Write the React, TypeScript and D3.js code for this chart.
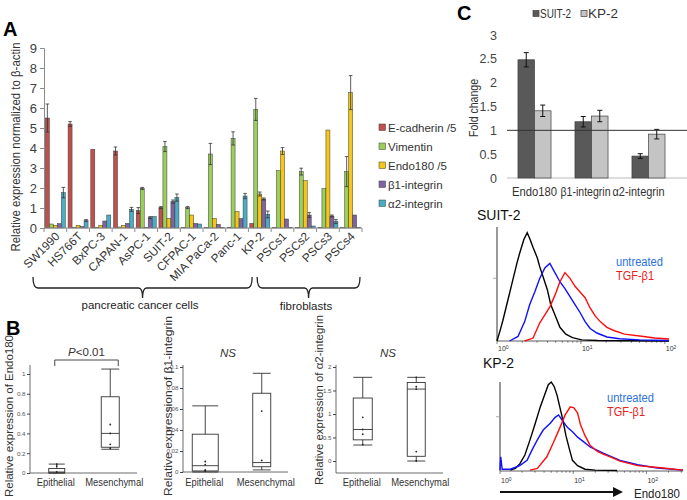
import React, { useRef, useEffect } from "react";
import * as d3 from "d3";

const FONT = "'Liberation Sans', Arial, sans-serif";

// ---- panel A: qPCR of cell lines
const cellLines = ["SW1990", "HS766T", "BxPC-3", "CAPAN-1", "AsPC-1", "SUIT-2", "CFPAC-1", "MIA PaCa-2", "Panc-1", "KP-2", "PSCs1", "PSCs2", "PSCs3", "PSCs4"];
const markers = ["E-cadherin /5", "Vimentin", "Endo180 /5", "β1-integrin", "α2-integrin"];
const markerColors = ["#c0504d", "#9bcf5c", "#f5c518", "#8064a2", "#4bacc6"];
const eCadherin = [5.5, 5.2, 3.93, 3.85, 0.87, 1.02, 0.02, 0.02, 0.02, 0.23, 0.02, 0.02, 0.02, 0.02];
const eCadherinErr = [0.7, 0.12, 0, 0.2, 0.15, 0.05, 0, 0, 0, 0, 0, 0, 0, 0];
const vimentin = [0.2, 0.03, 0.03, 0.05, 1.98, 4.07, 1.02, 3.7, 4.48, 5.93, 2.87, 2.82, 1.98, 2.82];
const vimentinErr = [0, 0, 0, 0, 0.05, 0.25, 0.05, 0.53, 0.33, 0.55, 0, 0.17, 0, 0.75];
const endo180 = [0.13, 0.13, 0.13, 0.13, 0.03, 0.48, 0.65, 0.48, 0.82, 1.7, 3.85, 2.37, 4.9, 6.77];
const endo180Err = [0, 0, 0, 0, 0, 0, 0, 0, 0, 0.1, 0.17, 0, 0, 0.85];
const beta1 = [0.22, 0.07, 0.35, 0.23, 0.52, 1.32, 0.23, 0.18, 0.47, 1.45, 0.45, 0.65, 0.6, 0.65];
const beta1Err = [0, 0, 0, 0, 0.05, 0.08, 0, 0, 0, 0.05, 0, 0.12, 0.05, 0];
const alpha2 = [1.77, 0.37, 0.65, 0.93, 0.57, 1.52, 0.2, 0.02, 1.6, 0.68, 0.02, 0.1, 0.32, 0.02];
const alpha2Err = [0.26, 0.05, 0, 0.1, 0, 0.18, 0, 0, 0.13, 0.17, 0, 0, 0.1, 0];

// ---- panel B: box plots  [min, q1, median, q3, max]
const groups = ["Epithelial", "Mesenchymal"];
const endoBox = [[0, 0, 0.01, 0.045, 0.09], [0.24, 0.26, 0.4, 0.77, 1.05]];
const endoPoints = [[0.09, 0.07, 0.01], [0.49, 0.4, 0.29, 0.25]];
const b1Box = [[0, 0.001, 0.006, 0.036, 0.063], [0.002, 0.005, 0.009, 0.075, 0.094]];
const b1Points = [[0.01, 0.007, 0.002, 0.001], [0.058, 0.011]];
const a2Box = [[0.34, 0.45, 0.67, 1.34, 1.78], [0, 0.1, 1.53, 1.67, 1.78]];
const a2Points = [[0.93, 0.67, 0.57, 0.35], [1.78, 1.58, 1.53, 0.2, 0]];

// ---- panel C: fold change
const foldTargets = ["Endo180", "β1-integrin", "α2-integrin"];
const foldLines = ["SUIT-2", "KP-2"];
const foldColors = ["#595959", "#c4c4c4"];
const suit2Fold = [2.48, 1.18, 0.46];
const suit2Err = [0.15, 0.11, 0.05];
const kp2Fold = [1.41, 1.3, 0.92];
const kp2Err = [0.12, 0.12, 0.1];

// ---- panel C: flow histograms [log10 intensity, % of max]
const suit2Control = [[0, 0], [0.04, 10], [0.07, 18], [0.13, 36], [0.19, 54], [0.24, 69], [0.27, 77], [0.32, 89], [0.36, 95], [0.39, 90], [0.43, 82], [0.48, 73], [0.51, 65], [0.56, 54], [0.6, 45], [0.64, 32], [0.69, 23], [0.75, 12], [0.82, 6], [0.9, 3], [1.01, 1], [1.2, 0.5], [2.05, 0]];
const suit2Untreated = [[0.15, 0], [0.25, 4], [0.33, 17], [0.39, 32], [0.45, 43], [0.51, 55], [0.57, 64], [0.63, 68], [0.69, 60], [0.75, 52], [0.81, 46], [0.87, 39], [0.93, 32], [0.99, 25], [1.05, 17], [1.11, 11], [1.19, 7], [1.31, 3.5], [1.46, 2], [1.7, 1], [2.05, 0.5]];
const suit2Tgf = [[0.33, 0], [0.43, 2.6], [0.51, 16], [0.57, 23], [0.63, 30], [0.69, 40], [0.75, 52], [0.81, 60], [0.87, 55], [0.93, 48], [0.99, 43], [1.05, 38], [1.11, 29], [1.17, 22], [1.23, 17], [1.31, 12], [1.4, 9], [1.52, 6], [1.7, 4.4], [1.88, 2.6], [2.05, 1.8]];
const kp2Control = [[0.14, 1], [0.21, 3], [0.27, 8], [0.34, 18], [0.41, 35], [0.48, 53], [0.55, 72], [0.62, 88], [0.66, 97], [0.7, 100], [0.74, 95], [0.78, 85], [0.82, 71], [0.86, 57], [0.9, 40], [0.95, 24], [0.99, 12], [1.06, 6], [1.16, 2], [1.3, 1], [1.6, 0.5]];
const kp2Untreated = [[0, 1], [0.01, 16], [0.03, 2], [0.14, 2], [0.27, 6], [0.37, 12], [0.44, 24], [0.51, 35], [0.59, 46], [0.69, 54], [0.75, 60], [0.8, 63], [0.85, 57], [0.92, 49], [0.99, 44], [1.06, 38], [1.14, 33], [1.23, 27], [1.41, 20], [1.64, 12], [1.88, 7], [2.15, 3.4], [2.5, 1]];
const kp2Tgf = [[0.41, 1], [0.51, 3], [0.64, 16], [0.73, 32], [0.82, 49], [0.89, 63], [0.96, 72], [1.01, 71], [1.06, 65], [1.1, 52], [1.16, 40], [1.23, 29], [1.33, 22], [1.41, 19], [1.53, 15], [1.64, 11], [1.88, 6], [2.23, 3.4], [2.5, 1]];

const txt = (g, x, y, s, size, opts: any = {}) => {
  const t = g.append("text")
    .attr("x", x).attr("y", y)
    .attr("font-family", FONT)
    .attr("font-size", size)
    .attr("fill", opts.fill || "#222")
    .attr("text-anchor", opts.anchor || "start")
    .attr("font-weight", opts.weight || "normal")
    .attr("font-style", opts.style || "normal")
    .text(s);
  if (opts.len) t.attr("textLength", opts.len).attr("lengthAdjust", "spacingAndGlyphs");
  return t;
};

const drawPanelA = svg => {
  const g = svg.append("g");
  const y = d3.scaleLinear().domain([0, 9]).range([228, 48]);
  const x0 = d3.scaleBand().domain(cellLines).range([44, 362]).paddingInner(0.12).paddingOuter(0.06);
  const x1 = d3.scaleBand().domain(markers).range([0, x0.bandwidth()]);
  const step = x0.step();

  const yAx = g.append("g").attr("transform", "translate(44,0)")
    .call(d3.axisLeft(y).ticks(9).tickSize(4).tickPadding(3));
  yAx.attr("font-family", FONT).attr("font-size", 13);
  yAx.select(".domain").attr("stroke", "#8c8c8c");
  yAx.selectAll(".tick line").attr("stroke", "#8c8c8c");
  yAx.selectAll(".tick text").attr("fill", "#404040");

  const series = [[eCadherin, eCadherinErr], [vimentin, vimentinErr], [endo180, endo180Err], [beta1, beta1Err], [alpha2, alpha2Err]];
  series.forEach(([vals, errs], k) => {
    const bw = x1.bandwidth();
    g.append("g").selectAll("rect").data(cellLines).join("rect")
      .attr("x", c => x0(c) + x1(markers[k]))
      .attr("y", (c, i) => y(vals[i]))
      .attr("width", bw)
      .attr("height", (c, i) => y(0) - y(vals[i]))
      .attr("fill", markerColors[k])
      .attr("stroke", "#3a3a3a")
      .attr("stroke-width", 0.5);
    const eb = g.append("g").attr("stroke", "#333").attr("stroke-width", 0.8);
    cellLines.forEach((c, i) => {
      if (!errs[i]) return;
      const cx = x0(c) + x1(markers[k]) + bw / 2;
      eb.append("line").attr("x1", cx).attr("x2", cx).attr("y1", y(vals[i] + errs[i])).attr("y2", y(Math.max(0, vals[i] - errs[i])));
      eb.append("line").attr("x1", cx - 1.8).attr("x2", cx + 1.8).attr("y1", y(vals[i] + errs[i])).attr("y2", y(vals[i] + errs[i]));
      eb.append("line").attr("x1", cx - 1.8).attr("x2", cx + 1.8).attr("y1", y(vals[i] - errs[i])).attr("y2", y(vals[i] - errs[i]));
    });
  });

  // x axis with separators between groups
  g.append("line").attr("x1", 44).attr("x2", 362).attr("y1", y(0)).attr("y2", y(0)).attr("stroke", "#8c8c8c");
  d3.range(cellLines.length + 1).forEach(i => {
    const bx = x0.range()[0] + i * step;
    g.append("line").attr("x1", bx).attr("x2", bx).attr("y1", y(0)).attr("y2", y(0) + 4).attr("stroke", "#8c8c8c");
  });
  g.append("g").selectAll("text").data(cellLines).join("text")
    .attr("transform", c => `translate(${x0(c) + x0.bandwidth() / 2 + 5},237) rotate(-45)`)
    .attr("text-anchor", "end")
    .attr("font-family", FONT).attr("font-size", 11.8).attr("fill", "#333")
    .text(c => c);

  txt(g, 0, 0, "Relative expression normalized to β-actin", 12, { anchor: "middle", fill: "#333", len: 209 })
    .attr("transform", "translate(20,147) rotate(-90)").attr("x", null).attr("y", null);

  // legend
  const lg = g.append("g");
  markers.forEach((m, k) => {
    const ly = 128 + k * 19;
    lg.append("rect").attr("x", 379).attr("y", ly - 4).attr("width", 6.5).attr("height", 6.5)
      .attr("fill", markerColors[k]).attr("stroke", "#3a3a3a").attr("stroke-width", 0.5);
    txt(lg, 388, ly + 3.5, m, 11.5, { fill: "#333" });
  });

  // brackets
  const bracket = (l, r, top, mid, low) => {
    const c = (l + r) / 2;
    g.append("path")
      .attr("d", `M${l},${top} Q${l},${mid} ${l + 5},${mid} L${c - 4},${mid} Q${c},${mid} ${c},${low} Q${c},${mid} ${c + 4},${mid} L${r - 5},${mid} Q${r},${mid} ${r},${top}`)
      .attr("fill", "none").attr("stroke", "#222").attr("stroke-width", 1.3);
    return c;
  };
  const b = i => x0.range()[0] + i * step;
  bracket(b(0) - 11, b(10) - 19, 277, 288, 298);
  bracket(b(10) - 14, b(14) - 2, 277, 288, 298);
  txt(g, 140, 309, "pancreatic cancer cells", 11.5, { anchor: "middle" });
  txt(g, 306, 310, "fibroblasts", 11.5, { anchor: "middle" });

  txt(g, 3, 36, "A", 20, { weight: "bold", fill: "#000" });
};

const drawBoxPlot = (svg, cfg) => {
  const g = svg.append("g");
  const { y, x } = cfg;
  g.append("line").attr("x1", cfg.left).attr("x2", cfg.left).attr("y1", cfg.bottom).attr("y2", cfg.top).attr("stroke", "#444").attr("stroke-width", 0.8);
  g.append("line").attr("x1", cfg.left).attr("x2", cfg.right).attr("y1", cfg.bottom).attr("y2", cfg.bottom).attr("stroke", "#444").attr("stroke-width", 0.8);
  const ax = g.append("g").attr("transform", `translate(${cfg.left},0)`)
    .call(d3.axisLeft(y).tickValues(cfg.ticks).tickSize(3).tickPadding(1.5).tickFormat(d3.format(cfg.fmt)));
  ax.select(".domain").remove();
  ax.attr("font-family", FONT).attr("font-size", 6.2);
  ax.selectAll(".tick line").attr("stroke", "#444");
  ax.selectAll(".tick text").attr("fill", "#555");

  const labelShift = [-1, 4];
  const labelLen = [38, 58];
  groups.forEach((grp, i) => {
    const [mn, q1, md, q3, mx] = cfg.boxes[i];
    const cx = x(grp);
    const w = cfg.widths[i];
    const s = g.append("g").attr("stroke", "#333").attr("stroke-width", 0.9).attr("fill", "none");
    s.append("line").attr("x1", cx).attr("x2", cx).attr("y1", y(mx)).attr("y2", y(q3));
    s.append("line").attr("x1", cx).attr("x2", cx).attr("y1", y(q1)).attr("y2", y(mn));
    s.append("line").attr("x1", cx - w / 2).attr("x2", cx + w / 2).attr("y1", y(mx)).attr("y2", y(mx));
    s.append("line").attr("x1", cx - w / 2).attr("x2", cx + w / 2).attr("y1", y(mn)).attr("y2", y(mn));
    s.append("rect").attr("x", cx - w / 2).attr("y", y(q3)).attr("width", w).attr("height", Math.max(0.5, y(q1) - y(q3)));
    s.append("line").attr("x1", cx - w / 2).attr("x2", cx + w / 2).attr("y1", y(md)).attr("y2", y(md));
    g.append("g").selectAll("circle").data(cfg.points[i]).join("circle")
      .attr("cx", cx).attr("cy", d => y(d)).attr("r", 0.9).attr("fill", "#222");
    txt(g, cx + labelShift[i], 486, grp, 10.5, { anchor: "middle", fill: "#333", len: labelLen[i] });
  });

  txt(g, 0, 0, cfg.label, 11.5, { anchor: "middle", fill: "#333", len: cfg.labelLen })
    .attr("transform", `translate(${cfg.labelX},${cfg.labelY}) rotate(-90)`).attr("x", null).attr("y", null);
};

const drawPanelB = svg => {
  const endoX = d3.scalePoint().domain(groups).range([30, 137]).padding(0.5);
  drawBoxPlot(svg, {
    x: endoX, y: d3.scaleLinear().domain([0, 1]).range([473, 374]),
    left: 30, right: 137, bottom: 473, top: 365,
    ticks: [0, 0.2, 0.4, 0.6, 0.8, 1], fmt: "~g",
    boxes: endoBox, points: endoPoints, widths: [16, 18],
    label: "Relative  expression of Endo180", labelX: 13, labelY: 416, labelLen: 162
  });
  const g = svg.append("g");
  const l = endoX("Epithelial") - 2, r = endoX("Mesenchymal") + 8;
  g.append("path").attr("d", `M${l},366 L${l},360 L${r},360 L${r},366`).attr("fill", "none").attr("stroke", "#333").attr("stroke-width", 0.9);
  const p = txt(g, (l + r) / 2, 356, "", 11.5, { anchor: "middle", fill: "#333" });
  p.append("tspan").attr("font-style", "italic").text("P");
  p.append("tspan").text("<0.01");

  drawBoxPlot(svg, {
    x: d3.scalePoint().domain(groups).range([177, 290]).padding(0.5),
    y: d3.scaleLinear().domain([0, 0.1]).range([472, 367]),
    left: 183, right: 288, bottom: 472, top: 365,
    ticks: [0, 0.02, 0.04, 0.06, 0.08, 0.1], fmt: "~g",
    boxes: b1Box, points: b1Points, widths: [26, 18],
    label: "Relative  expression of β1-integrin", labelX: 172, labelY: 406, labelLen: 180
  });
  txt(g, 228, 357, "NS", 11.5, { anchor: "middle", style: "italic", fill: "#333" });

  drawBoxPlot(svg, {
    x: d3.scalePoint().domain(groups).range([336, 443]).padding(0.5),
    y: d3.scaleLinear().domain([0, 2]).range([461, 367]),
    left: 336, right: 443, bottom: 473, top: 365,
    ticks: [0, 0.5, 1, 1.5, 2], fmt: "~g",
    boxes: a2Box, points: a2Points, widths: [19, 18],
    label: "Relative  expression of α2-integrin", labelX: 323, labelY: 400, labelLen: 170
  });
  txt(g, 388, 357, "NS", 11.5, { anchor: "middle", style: "italic", fill: "#333" });

  txt(g, 6, 335, "B", 20, { weight: "bold", fill: "#000" });
};

const drawPanelC = svg => {
  const g = svg.append("g");
  const y = d3.scaleLinear().domain([0, 3]).range([178, 35]);
  const x0 = d3.scaleBand().domain(foldTargets).range([506, 677]).paddingInner(0.42).paddingOuter(0.21);
  const x1 = d3.scaleBand().domain(foldLines).range([0, x0.bandwidth()]);

  const yAx = g.append("g").attr("transform", "translate(501,0)")
    .call(d3.axisLeft(y).tickValues([0, 0.5, 1, 1.5, 2, 2.5, 3]).tickSize(0).tickPadding(4).tickFormat(d3.format("~g")));
  yAx.select(".domain").remove();
  yAx.attr("font-family", FONT).attr("font-size", 12.5);
  yAx.selectAll(".tick text").attr("fill", "#444");

  g.append("line").attr("x1", 507).attr("x2", 687).attr("y1", y(0)).attr("y2", y(0)).attr("stroke", "#bbb");

  const sets = [[suit2Fold, suit2Err], [kp2Fold, kp2Err]];
  sets.forEach(([vals, errs], k) => {
    g.append("g").selectAll("rect").data(foldTargets).join("rect")
      .attr("x", t => x0(t) + x1(foldLines[k]))
      .attr("y", (t, i) => y(vals[i]))
      .attr("width", x1.bandwidth())
      .attr("height", (t, i) => y(0) - y(vals[i]))
      .attr("fill", foldColors[k]).attr("stroke", "#404040").attr("stroke-width", 0.7);
    const eb = g.append("g").attr("stroke", "#111").attr("stroke-width", 1);
    foldTargets.forEach((t, i) => {
      const cx = x0(t) + x1(foldLines[k]) + x1.bandwidth() / 2;
      eb.append("line").attr("x1", cx).attr("x2", cx).attr("y1", y(vals[i] + errs[i])).attr("y2", y(vals[i] - errs[i]));
      [1, -1].forEach(sgn => eb.append("line").attr("x1", cx - 2.5).attr("x2", cx + 2.5)
        .attr("y1", y(vals[i] + sgn * errs[i])).attr("y2", y(vals[i] + sgn * errs[i])));
    });
  });
  g.append("line").attr("x1", 507).attr("x2", 687).attr("y1", y(1)).attr("y2", y(1)).attr("stroke", "#333").attr("stroke-width", 1);

  const labelLen = [45, 50, 52];
  const labelShift = [0, -6, -10];
  foldTargets.forEach((t, i) => txt(g, x0(t) + x0.bandwidth() / 2 + labelShift[i], 196, t, 12, { anchor: "middle", fill: "#333", len: labelLen[i] }));
  txt(g, 0, 0, "Fold change", 12, { anchor: "middle", fill: "#333", len: 58 })
    .attr("transform", "translate(478,108) rotate(-90)").attr("x", null).attr("y", null);

  foldLines.forEach((l, k) => {
    const lx = k === 0 ? 533 : 581;
    g.append("rect").attr("x", lx).attr("y", 10.5).attr("width", 6).attr("height", 6)
      .attr("fill", foldColors[k]).attr("stroke", "#404040").attr("stroke-width", 0.7);
    txt(g, lx + 7, 17.5, l, 12.5, { fill: "#333", len: k === 0 ? 31 : 30 });
  });

  txt(g, 457, 20, "C", 20, { weight: "bold", fill: "#000" });
};

const drawHistogram = (svg, cfg) => {
  const g = svg.append("g");
  const { x, y } = cfg;
  const [x0, x1] = x.range();
  const base = y(0);
  // log axis
  g.append("line").attr("x1", x0).attr("x2", x1).attr("y1", base).attr("y2", base).attr("stroke", "#333").attr("stroke-width", 0.8);
  const d1 = x.domain()[1];
  for (let dec = 1; dec <= d1; dec *= 10) {
    for (let m = 1; m < 10; m++) {
      const v = dec * m;
      if (v > d1) break;
      g.append("line").attr("x1", x(v)).attr("x2", x(v)).attr("y1", base).attr("y2", base + (m === 1 ? 3 : 1.8))
        .attr("stroke", "#333").attr("stroke-width", 0.6);
    }
    const t = g.append("text").attr("x", x(dec) + 1).attr("y", cfg.tickY)
      .attr("font-family", FONT).attr("font-size", 7).attr("fill", "#333");
    t.append("tspan").text("10");
    t.append("tspan").attr("font-size", 5).attr("dy", -2.5).text(String(Math.round(Math.log10(dec))));
  }
  g.append("line").attr("x1", x0).attr("x2", x0).attr("y1", base).attr("y2", y(100)).attr("stroke", "#999").attr("stroke-width", 2);
  g.append("line").attr("x1", x0 - 4).attr("x2", x0).attr("y1", y(cfg.midTick)).attr("y2", y(cfg.midTick)).attr("stroke", "#999").attr("stroke-width", 0.8);

  const line = d3.line().x(d => x(Math.pow(10, d[0]))).y(d => y(d[1]));
  cfg.series.forEach(([data, color]) => {
    g.append("path").datum(data).attr("d", line).attr("fill", "none").attr("stroke", color).attr("stroke-width", 1.4);
  });

  txt(g, cfg.nameX, cfg.nameY, cfg.name, 14, { fill: "#111" });
  txt(g, cfg.legX, cfg.legY, "untreated", 12.5, { fill: "#2a72dd", len: 47 });
  txt(g, cfg.legX, cfg.legY + 14, "TGF-β1", 12.5, { fill: "#e8201c", len: 38 });
};

const drawPanelCHist = svg => {
  drawHistogram(svg, {
    x: d3.scaleLog().domain([1, Math.pow(10, 2.05)]).range([497, 669]),
    y: d3.scaleLinear().domain([0, 100]).range([341, 227]),
    midTick: 55, tickY: 351,
    series: [[suit2Control, "#000"], [suit2Untreated, "#1010ff"], [suit2Tgf, "#ff0d0d"]],
    name: "SUIT-2", nameX: 477, nameY: 220, legX: 616, legY: 266
  });
  drawHistogram(svg, {
    x: d3.scaleLog().domain([1, Math.pow(10, 2.5)]).range([500, 683]),
    y: d3.scaleLinear().domain([0, 100]).range([471, 382]),
    midTick: 61, tickY: 483,
    series: [[kp2Control, "#000"], [kp2Untreated, "#1010ff"], [kp2Tgf, "#ff0d0d"]],
    name: "KP-2", nameX: 483, nameY: 368, legX: 607, legY: 402
  });
  const g = svg.append("g");
  g.append("defs").append("marker").attr("id", "arrowHead").attr("viewBox", "0 0 10 10")
    .attr("refX", 8).attr("refY", 5).attr("markerWidth", 5).attr("markerHeight", 5).attr("orient", "auto")
    .append("path").attr("d", "M0,0 L10,5 L0,10 z").attr("fill", "#111");
  g.append("line").attr("x1", 500).attr("x2", 621).attr("y1", 492).attr("y2", 492)
    .attr("stroke", "#111").attr("stroke-width", 2).attr("marker-end", "url(#arrowHead)");
  txt(g, 634, 498, "Endo180", 12, { fill: "#222", len: 46 });
};

const App = () => {
  const ref = useRef(null);
  useEffect(() => {
    const svg = d3.select(ref.current);
    svg.selectAll("*").remove();
    drawPanelA(svg);
    drawPanelB(svg);
    drawPanelC(svg);
    drawPanelCHist(svg);
  }, []);
  return (
    <svg
      ref={ref}
      width={687}
      height={500}
      style={{ position: "absolute", left: 0, top: 0, background: "#fff" }}
    />
  );
};

export default App;
